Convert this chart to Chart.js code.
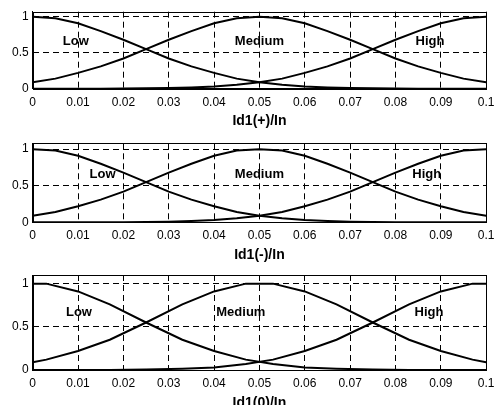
<!DOCTYPE html>
<html>
<head>
<meta charset="utf-8">
<script src="https://cdn.jsdelivr.net/npm/chart.js@4"></script>
<style>
    body { margin: 0; background: #fff; width: 501px; height: 405px; overflow: hidden; position: relative; }
    canvas { position: absolute; left: 0; }
</style>
</head>
<body>
<canvas id="c1" width="501" height="130" style="top:0px"></canvas>
<canvas id="c2" width="501" height="137" style="top:127px"></canvas>
<canvas id="c3" width="501" height="150" style="top:262px"></canvas>
<script>
// x positions of the sampled membership curves (plots 1 and 2)
var xFine = [0, 0.005, 0.01, 0.015, 0.02, 0.025, 0.03, 0.035, 0.04, 0.045, 0.05,
    0.055, 0.06, 0.065, 0.07, 0.075, 0.08, 0.085, 0.09, 0.095, 0.1];

var low1 = [1, 0.98, 0.91, 0.8, 0.68, 0.55, 0.42, 0.31, 0.22, 0.14, 0.09,
    0.055, 0.03, 0.018, 0.009, 0.005, 0.002, 0.001, 0, 0, 0];
var medium1 = [0.09, 0.14, 0.22, 0.31, 0.42, 0.55, 0.68, 0.8, 0.91, 0.98, 1,
    0.98, 0.91, 0.8, 0.68, 0.55, 0.42, 0.31, 0.22, 0.14, 0.09];
var high1 = [0, 0, 0, 0.001, 0.002, 0.005, 0.009, 0.018, 0.03, 0.055, 0.09,
    0.14, 0.22, 0.31, 0.42, 0.55, 0.68, 0.8, 0.91, 0.98, 1];

var low2 = [1, 0.98, 0.91, 0.8, 0.68, 0.55, 0.42, 0.31, 0.22, 0.14, 0.09,
    0.055, 0.03, 0.018, 0.009, 0.005, 0.002, 0.001, 0, 0, 0];
var medium2 = [0.09, 0.14, 0.22, 0.31, 0.42, 0.55, 0.68, 0.8, 0.91, 0.98, 1,
    0.98, 0.91, 0.8, 0.68, 0.55, 0.42, 0.31, 0.22, 0.14, 0.09];
var high2 = [0, 0, 0, 0.001, 0.002, 0.005, 0.009, 0.018, 0.03, 0.055, 0.09,
    0.14, 0.22, 0.31, 0.42, 0.55, 0.68, 0.8, 0.91, 0.98, 1];

// third plot is sampled coarser (flat tops)
var xCoarse = [0, 0.003, 0.01, 0.017, 0.025, 0.033, 0.04, 0.047, 0.053, 0.06,
    0.067, 0.075, 0.083, 0.09, 0.097, 0.1];
var low3 = [1, 1, 0.91, 0.76, 0.55, 0.35, 0.22, 0.12, 0.07, 0.03, 0.015, 0.005, 0, 0, 0, 0];
var medium3 = [0.09, 0.12, 0.22, 0.35, 0.55, 0.76, 0.91, 1, 1, 0.91, 0.76, 0.55, 0.35, 0.22, 0.12, 0.09];
var high3 = [0, 0, 0, 0, 0.005, 0.015, 0.03, 0.07, 0.12, 0.22, 0.35, 0.55, 0.76, 0.91, 1, 1];

var xTickValues = [0, 0.01, 0.02, 0.03, 0.04, 0.05, 0.06, 0.07, 0.08, 0.09, 0.1];
var xTickLabels = ['0', '0.01', '0.02', '0.03', '0.04', '0.05', '0.06', '0.07', '0.08', '0.09', '0.1'];
var yTickValues = [0, 0.5, 1];
var yTickLabels = ['0', '0.5', '1'];

var setNames = ['Low', 'Medium', 'High'];
var axisTitles = ['Id1(+)/In', 'Id1(-)/In', 'Id1(0)/In'];

var FONT = '"Liberation Sans", Arial, sans-serif';

// black frame round the plot area
var boxPlugin = {
    id: 'box',
    afterDraw: function (chart) {
        var a = chart.chartArea;
        var ctx = chart.ctx;
        ctx.save();
        ctx.setLineDash([]);
        ctx.strokeStyle = '#000';
        ctx.lineWidth = 1;
        ctx.strokeRect(Math.round(a.left) + 0.5, Math.round(a.top) + 0.5,
            Math.round(a.right - a.left), Math.round(a.bottom - a.top));
        ctx.restore();
    }
};

// set names written inside the plot
var labelPlugin = {
    id: 'setLabels',
    afterDatasetsDraw: function (chart, args, opts) {
        var ctx = chart.ctx;
        ctx.save();
        ctx.font = 'bold 13px ' + FONT;
        ctx.fillStyle = '#000';
        ctx.textAlign = 'center';
        ctx.textBaseline = 'middle';
        opts.places.forEach(function (p, i) {
            ctx.fillText(setNames[i], chart.scales.x.getPixelForValue(p[0]),
                chart.scales.y.getPixelForValue(p[1]));
        });
        ctx.restore();
    }
};

function toPoints(xs, ys) {
    return xs.map(function (x, i) { return { x: x, y: ys[i] }; });
}

function makeChart(id, xs, series, title, cfg) {
    var ctx = document.getElementById(id).getContext('2d');
    return new Chart(ctx, {
        type: 'line',
        data: {
            datasets: series.map(function (ys) {
                return {
                    data: toPoints(xs, ys),
                    borderColor: '#000',
                    borderWidth: 2,
                    pointRadius: 0,
                    tension: 0,
                    fill: false
                };
            })
        },
        options: {
            responsive: false,
            animation: false,
            events: [],
            layout: { padding: { top: cfg.top, right: 10.3, left: 0, bottom: 0 } },
            plugins: {
                legend: { display: false },
                tooltip: { enabled: false },
                setLabels: { places: cfg.places }
            },
            scales: {
                x: {
                    type: 'linear',
                    min: 0,
                    max: 0.1,
                    afterBuildTicks: function (s) {
                        s.ticks = xTickValues.map(function (v) { return { value: v }; });
                    },
                    afterFit: function (s) { s.height = cfg.xh; },
                    ticks: {
                        callback: function (v, i) { return xTickLabels[i]; },
                        color: '#000',
                        font: { family: FONT, size: 12 },
                        padding: 6.5,
                        maxRotation: 0,
                        autoSkip: false
                    },
                    grid: { color: '#000', lineWidth: 1, drawTicks: false },
                    border: { display: true, color: '#000', dash: [6, 4] },
                    title: {
                        display: true,
                        text: title,
                        color: '#000',
                        font: { family: FONT, size: 14, weight: 'bold' },
                        padding: { top: 0, bottom: 0 }
                    }
                },
                y: {
                    min: 0,
                    max: cfg.ymax,
                    afterBuildTicks: function (s) {
                        s.ticks = yTickValues.map(function (v) { return { value: v }; });
                    },
                    afterFit: function (s) { s.width = 32.7; },
                    ticks: {
                        callback: function (v, i) { return yTickLabels[i]; },
                        color: '#000',
                        font: { family: FONT, size: 12 },
                        padding: 4
                    },
                    grid: { color: '#000', lineWidth: 1, drawTicks: false },
                    border: { display: true, color: '#000', dash: [6, 4] }
                }
            }
        },
        plugins: [boxPlugin, labelPlugin]
    });
}

document.addEventListener('DOMContentLoaded', function () {
    makeChart('c1', xFine, [low1, medium1, high1], axisTitles[0], {
        top: 11.7, xh: 41.3, ymax: 1.07,
        places: [[0.0095, 0.66], [0.05, 0.66], [0.0876, 0.66]]
    });
    makeChart('c2', xFine, [low2, medium2, high2], axisTitles[1], {
        top: 16.3, xh: 41.7, ymax: 1.08,
        places: [[0.0154, 0.66], [0.05, 0.66], [0.0869, 0.66]]
    });
    makeChart('c3', xCoarse, [low3, medium3, high3], axisTitles[2], {
        top: 13, xh: 42, ymax: 1.1,
        places: [[0.0102, 0.67], [0.0459, 0.67], [0.0874, 0.67]]
    });
});
</script>
</body>
</html>
